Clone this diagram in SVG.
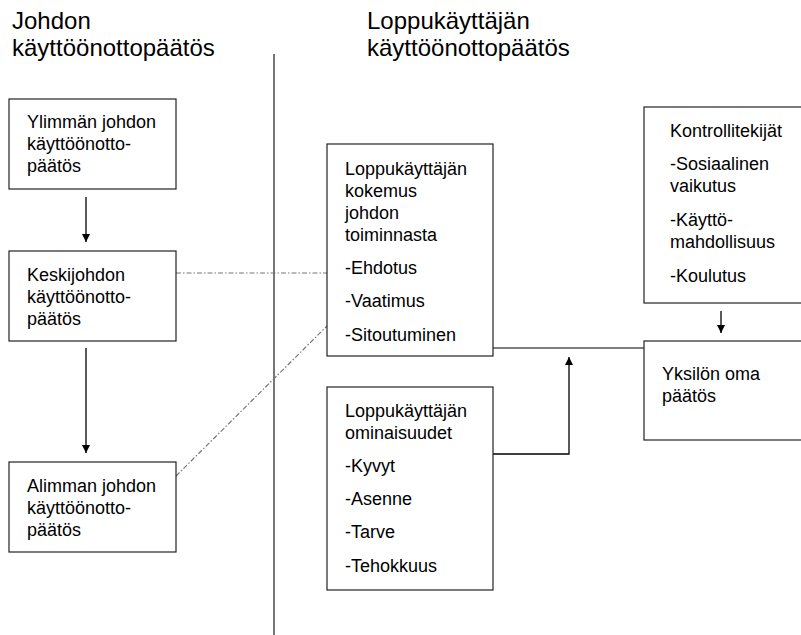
<svg xmlns="http://www.w3.org/2000/svg" width="801" height="635" viewBox="0 0 801 635">
  <style>
    text { font-family: "Liberation Sans", Arial, sans-serif; fill: #000; }
    .title { font-size: 24px; }
    .lbl { font-size: 18px; }
    .box { fill: #fff; stroke: #222; stroke-width: 1.2; }
    .arrow { fill: none; stroke: #000; stroke-width: 1.3; marker-end: url(#head); }
    .plain { fill: none; stroke: #000; stroke-width: 1.2; }
    .dashdot { fill: none; stroke: #777; stroke-width: 1.2; stroke-dasharray: 5 2 1.5 2; }
    .divider { stroke: #777; stroke-width: 2; }
  </style>
  <defs>
    <marker id="head" viewBox="0 0 8 10" refX="8" refY="5" markerWidth="8" markerHeight="10" markerUnits="userSpaceOnUse" orient="auto">
      <path d="M0,1 L8,5 L0,9 Z" fill="#000"/>
    </marker>
  </defs>
  <rect width="801" height="635" fill="#fff"/>

  <!-- column headings -->
  <g id="heading-left">
    <text class="title" x="12" y="29">Johdon</text>
    <text class="title" x="12" y="56">käyttöönottopäätös</text>
  </g>
  <g id="heading-right">
    <text class="title" x="367" y="29">Loppukäyttäjän</text>
    <text class="title" x="367" y="56">käyttöönottopäätös</text>
  </g>

  <!-- column divider -->
  <line class="divider" x1="274" y1="54" x2="274" y2="635"/>

  <!-- connectors -->
  <g id="connectors">
    <line class="arrow" x1="86" y1="197" x2="86" y2="242"/>
    <line class="arrow" x1="86" y1="348" x2="86" y2="453"/>
    <line class="dashdot" x1="176" y1="273" x2="327" y2="273"/>
    <line class="dashdot" x1="176" y1="476" x2="327" y2="326"/>
    <line class="plain" x1="493" y1="348" x2="644" y2="348"/>
    <polyline class="arrow" points="493,454 569,454 569,357"/>
    <line class="arrow" x1="721" y1="311" x2="721" y2="333"/>
  </g>

  <g id="ylin-johto">
    <rect class="box" x="9" y="99" width="167" height="90"/>
    <text class="lbl" x="27" y="128">Ylimmän johdon</text>
    <text class="lbl" x="27" y="150">käyttöönotto-</text>
    <text class="lbl" x="27" y="172">päätös</text>
  </g>

  <g id="keskijohto">
    <rect class="box" x="9" y="251" width="167" height="90"/>
    <text class="lbl" x="27" y="281">Keskijohdon</text>
    <text class="lbl" x="27" y="303">käyttöönotto-</text>
    <text class="lbl" x="27" y="325">päätös</text>
  </g>

  <g id="alin-johto">
    <rect class="box" x="9" y="462" width="167" height="90"/>
    <text class="lbl" x="27" y="492">Alimman johdon</text>
    <text class="lbl" x="27" y="514">käyttöönotto-</text>
    <text class="lbl" x="27" y="536">päätös</text>
  </g>

  <g id="kokemus">
    <rect class="box" x="327" y="144" width="166" height="212"/>
    <text class="lbl" x="345" y="175">Loppukäyttäjän</text>
    <text class="lbl" x="345" y="197">kokemus</text>
    <text class="lbl" x="345" y="219">johdon</text>
    <text class="lbl" x="345" y="241">toiminnasta</text>
    <text class="lbl" x="345" y="274">-Ehdotus</text>
    <text class="lbl" x="345" y="307">-Vaatimus</text>
    <text class="lbl" x="345" y="341">-Sitoutuminen</text>
  </g>

  <g id="ominaisuudet">
    <rect class="box" x="327" y="387" width="166" height="203"/>
    <text class="lbl" x="345" y="417">Loppukäyttäjän</text>
    <text class="lbl" x="345" y="439">ominaisuudet</text>
    <text class="lbl" x="345" y="472">-Kyvyt</text>
    <text class="lbl" x="345" y="505">-Asenne</text>
    <text class="lbl" x="345" y="538">-Tarve</text>
    <text class="lbl" x="345" y="572">-Tehokkuus</text>
  </g>

  <g id="kontrollitekijat">
    <rect class="box" x="644" y="107" width="200" height="196"/>
    <text class="lbl" x="670" y="137">Kontrollitekijät</text>
    <text class="lbl" x="670" y="170">-Sosiaalinen</text>
    <text class="lbl" x="670" y="192">vaikutus</text>
    <text class="lbl" x="670" y="226">-Käyttö-</text>
    <text class="lbl" x="670" y="248">mahdollisuus</text>
    <text class="lbl" x="670" y="282">-Koulutus</text>
  </g>

  <g id="yksilon-paatos">
    <rect class="box" x="644" y="341" width="200" height="99"/>
    <text class="lbl" x="662" y="380">Yksilön oma</text>
    <text class="lbl" x="662" y="402">päätös</text>
  </g>
</svg>
